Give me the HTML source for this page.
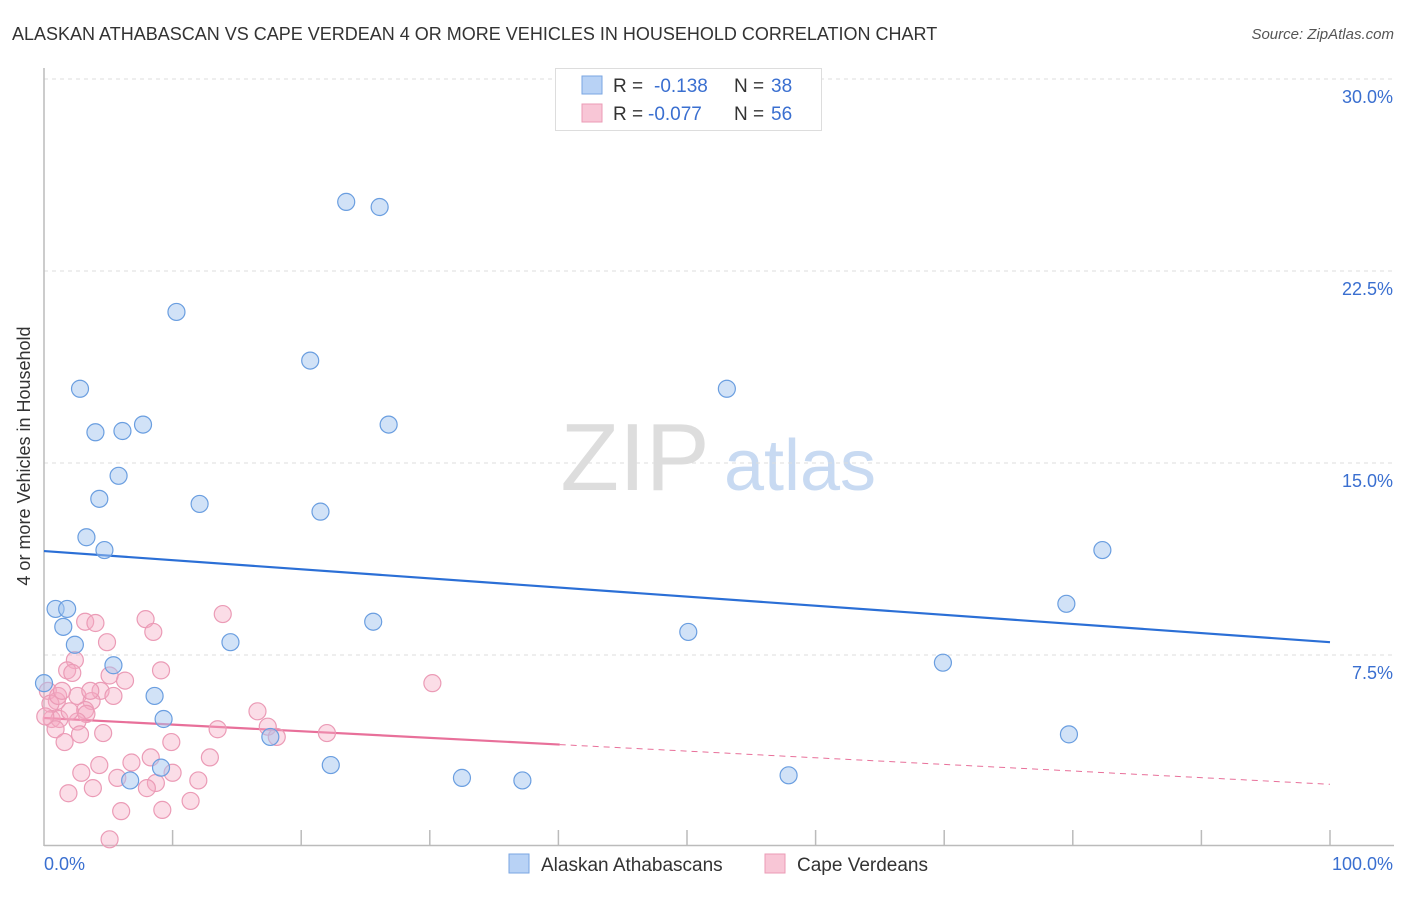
<!DOCTYPE html>
<html><head><meta charset="utf-8"><style>
body{margin:0;background:#fff;font-family:"Liberation Sans",sans-serif;}
svg text{font-family:"Liberation Sans",sans-serif;}
</style></head><body>
<svg id="chart" width="1406" height="892" viewBox="0 0 1406 892">
<text x="12" y="40" font-size="18" fill="#333">ALASKAN ATHABASCAN VS CAPE VERDEAN 4 OR MORE VEHICLES IN HOUSEHOLD CORRELATION CHART</text>
<text x="1394" y="39" font-size="15" fill="#555" font-style="italic" text-anchor="end">Source: ZipAtlas.com</text>
<text x="30" y="456" font-size="18" fill="#333" text-anchor="middle" transform="rotate(-90 30 456)">4 or more Vehicles in Household</text>
<g><text x="635" y="490" font-size="96" fill="#ddd" font-family="Liberation Serif" text-anchor="middle">ZIP</text><text x="800" y="490" font-size="72" fill="#c8daf2" text-anchor="middle">atlas</text></g>
<g id="grid"></g><g id="axes"></g><g id="trend"></g><g id="pts"></g>
<g>
<rect x="555.5" y="68.5" width="266" height="62" fill="#fff" stroke="#ddd"/>
<rect x="582" y="76" width="20" height="18" fill="#b8d2f5" stroke="#7aa6e2"/>
<text x="613" y="92" font-size="19" fill="#333">R = </text><text x="654" y="92" font-size="19" fill="#3a6fd0">-0.138</text>
<text x="734" y="92" font-size="19" fill="#333">N = </text><text x="771" y="92" font-size="19" fill="#3a6fd0">38</text>
<rect x="582" y="104" width="20" height="18" fill="#f8c6d6" stroke="#eb9bb6"/>
<text x="613" y="120" font-size="19" fill="#333">R = </text><text x="648" y="120" font-size="19" fill="#3a6fd0">-0.077</text>
<text x="734" y="120" font-size="19" fill="#333">N = </text><text x="771" y="120" font-size="19" fill="#3a6fd0">56</text>
</g>
<g>
<rect x="509" y="854" width="20" height="19" fill="#b8d2f5" stroke="#7aa6e2"/>
<text x="541" y="871" font-size="19" fill="#333">Alaskan Athabascans</text>
<rect x="765" y="854" width="20" height="19" fill="#f8c6d6" stroke="#eb9bb6"/>
<text x="797" y="871" font-size="19" fill="#333">Cape Verdeans</text>
</g>
</svg>
<script>
const yTicks=[7.5,15,22.5,30];
const yTickLabels=["7.5%","15.0%","22.5%","30.0%"];
const blueX=[23.5,26.1,10.3,20.7,2.8,53.1,7.7,26.8,4.0,6.1,5.8,4.3,12.1,21.5,3.3,4.7,82.3,0.9,1.8,79.5,1.5,25.6,2.4,50.1,14.5,5.4,69.9,8.6,9.3,0,17.6,79.7,22.3,9.1,6.7,32.5,37.2,57.9];
const blueY=[25.2,25.0,20.9,19.0,17.9,17.9,16.5,16.5,16.2,16.25,14.5,13.6,13.4,13.1,12.1,11.6,11.6,9.3,9.3,9.5,8.6,8.8,7.9,8.4,8.0,7.1,7.2,5.9,5.0,6.4,4.3,4.4,3.2,3.1,2.6,2.7,2.6,2.8];
const pinkX=[3.2,4.0,7.9,8.5,13.9,4.9,2.4,1.8,2.2,5.1,6.3,9.1,30.2,0.3,2.6,4.4,5.4,3.7,1.0,0.5,3.2,3.3,0.6,1.2,2.6,16.6,13.5,17.4,18.1,22.0,0.9,2.8,4.6,1.6,9.9,12.9,8.3,6.8,4.3,2.9,5.7,10.0,12.0,8.7,8.0,3.8,1.9,11.4,6.0,9.2,5.1,1.1,2.0,1.4,3.6,0.1];
const pinkY=[8.8,8.75,8.9,8.4,9.1,8.0,7.3,6.9,6.8,6.7,6.5,6.9,6.4,6.1,5.9,6.1,5.9,5.7,5.7,5.6,5.35,5.2,5.0,5.0,4.9,5.3,4.6,4.7,4.3,4.45,4.6,4.4,4.45,4.1,4.1,3.5,3.5,3.3,3.2,2.9,2.7,2.9,2.6,2.5,2.3,2.3,2.1,1.8,1.4,1.45,0.3,5.9,5.3,6.1,6.1,5.1];
const blueTrend=[11.56,8.0];
const pinkTrend=[5.04,2.45];
const pinkSolidEnd=40.1;
const NS="http://www.w3.org/2000/svg";
const X=v=>44+v*12.86, Y=v=>847-v*25.6;
function mk(t,a,p){const e=document.createElementNS(NS,t);for(const k in a)e.setAttribute(k,a[k]);p.appendChild(e);return e;}
const grid=document.getElementById('grid'),axes=document.getElementById('axes'),trend=document.getElementById('trend'),pts=document.getElementById('pts');
yTicks.forEach((t,i)=>{
 const l=mk('line',{x1:44,x2:1394,y1:Y(t),y2:Y(t),stroke:'#ddd','stroke-dasharray':'4 4'},grid);
 
 
 const tx=mk('text',{x:1393,y:Y(t)+24,'font-size':18,fill:'#3a6fd0','text-anchor':'end'},grid);
 tx.textContent=yTickLabels[i];
 
 
});
mk('line',{x1:44,x2:44,y1:68,y2:846,stroke:'#bbb','stroke-width':1.5},axes);
mk('line',{x1:44,x2:1394,y1:845.5,y2:845.5,stroke:'#bbb','stroke-width':1.5},axes);
for(let i=1;i<=10;i++){const t=mk('line',{x1:X(i*10),x2:X(i*10),y1:830,y2:846,stroke:'#bbb','stroke-width':1.5},axes);
 
 }
const x0=mk('text',{x:44,y:870,'font-size':18,fill:'#3a6fd0'},axes);x0.textContent='0.0%';


const x1=mk('text',{x:1393,y:870,'font-size':18,fill:'#3a6fd0','text-anchor':'end'},axes);x1.textContent='100.0%';


function dots(xs,ys,fill,stroke,name){xs.forEach((x,i)=>{const c=mk('circle',{cx:X(x),cy:Y(ys[i]),r:8.5,fill:fill,stroke:stroke,'stroke-width':1.2},pts);
 
 });}
dots(pinkX,pinkY,'rgba(246,170,195,0.4)','#eb9bb6','cape-verdean-point');
dots(blueX,blueY,'rgba(164,198,240,0.5)','#6a9ee0','alaskan-point');
const bt=mk('line',{x1:X(0),y1:Y(blueTrend[0]),x2:X(100),y2:Y(blueTrend[1]),stroke:'#2b6fd6','stroke-width':2.2},trend);


const pm=pinkTrend[0]+(pinkTrend[1]-pinkTrend[0])*pinkSolidEnd/100;
const pt=mk('line',{x1:X(0),y1:Y(pinkTrend[0]),x2:X(pinkSolidEnd),y2:Y(pm),stroke:'#e8709a','stroke-width':2.2},trend);


const pd=mk('line',{x1:X(pinkSolidEnd),y1:Y(pm),x2:X(100),y2:Y(pinkTrend[1]),stroke:'#e8709a','stroke-width':1,'stroke-dasharray':'6 5'},trend);


</script>
</body></html>
